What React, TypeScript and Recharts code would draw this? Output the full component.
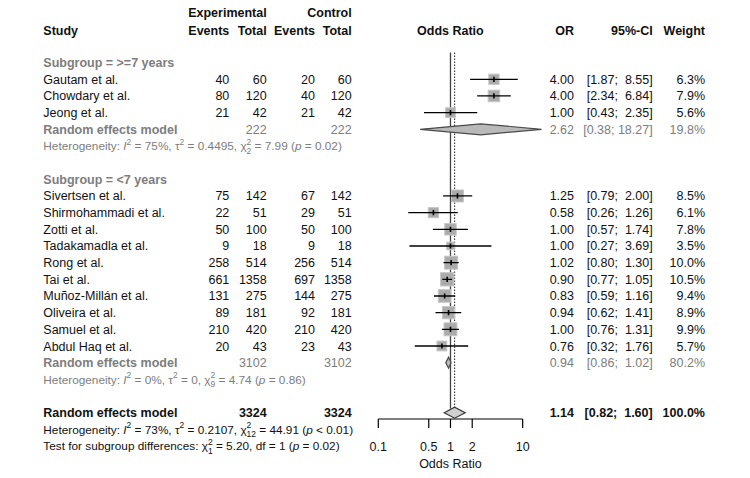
import React from "react";
import { ScatterChart, Scatter, XAxis, YAxis, ReferenceLine } from "recharts";

// ---- study rows ----
const studies = [
  "Gautam et al.",
  "Chowdary et al.",
  "Jeong et al.",
  "Sivertsen et al.",
  "Shirmohammadi et al.",
  "Zotti et al.",
  "Tadakamadla et al.",
  "Rong et al.",
  "Tai et al.",
  "Muñoz-Millán et al.",
  "Oliveira et al.",
  "Samuel et al.",
  "Abdul Haq et al.",
];
const studyGroup = [0, 0, 0, 1, 1, 1, 1, 1, 1, 1, 1, 1, 1];
const expEvents = [40, 80, 21, 75, 22, 50, 9, 258, 661, 131, 89, 210, 20];
const expTotal = [60, 120, 42, 142, 51, 100, 18, 514, 1358, 275, 181, 420, 43];
const ctrlEvents = [20, 40, 21, 67, 29, 50, 9, 256, 697, 144, 92, 210, 23];
const ctrlTotal = [60, 120, 42, 142, 51, 100, 18, 514, 1358, 275, 181, 420, 43];
const oddsRatio = [4.0, 4.0, 1.0, 1.25, 0.58, 1.0, 1.0, 1.02, 0.9, 0.83, 0.94, 1.0, 0.76];
const ciLower = [1.87, 2.34, 0.43, 0.79, 0.26, 0.57, 0.27, 0.8, 0.77, 0.59, 0.62, 0.76, 0.32];
const ciUpper = [8.55, 6.84, 2.35, 2.0, 1.26, 1.74, 3.69, 1.3, 1.05, 1.16, 1.41, 1.31, 1.76];
const weight = [6.3, 7.9, 5.6, 8.5, 6.1, 7.8, 3.5, 10.0, 10.5, 9.4, 8.9, 9.9, 5.7];

// ---- subgroup random effects ----
const groupLabels = ["Subgroup = >=7 years", "Subgroup = <7 years"];
const groupExpTotal = [222, 3102];
const groupCtrlTotal = [222, 3102];
const groupOR = [2.62, 0.94];
const groupLower = [0.38, 0.86];
const groupUpper = [18.27, 1.02];
const groupWeight = [19.8, 80.2];
const groupI2 = ["75%", "0%"];
const groupTau2 = ["0.4495", "0"];
const groupDf = ["2", "9"];
const groupQ = ["7.99", "4.74"];
const groupP = ["= 0.02", "= 0.86"];

// ---- overall random effects ----
const overallExpTotal = 3324;
const overallCtrlTotal = 3324;
const overallOR = 1.14;
const overallLower = 0.82;
const overallUpper = 1.6;
const overallWeight = 100.0;
const overallHet = { i2: "73%", tau2: "0.2107", df: "12", q: "44.91", p: "< 0.01" };
const subgroupTest = { df: "1", q: "5.20", p: "= 0.02" };

const axisTicks = [0.1, 0.5, 1, 2, 10];

// ---- layout ----
const W = 750;
const H = 478;
const TOP = 12.6;
const ROW_H = 16.67;
const AXIS_ROW = 24.38;
const PLOT_LEFT = 378.3;
const PLOT_RIGHT = 544.4;
const FONT = '"Liberation Sans", Arial, Helvetica, sans-serif';
const FS = 12.5;
const FS_HET = 11.8;
const GREY = "#7d7d7d";
const DIAMOND_H = 5.5;
const BOX_K = 4.1;

const COL = {
  study: 43.3,
  expEv: 229.3,
  expTot: 266.7,
  ctrlEv: 315,
  ctrlTot: 351.7,
  plotMid: 450.4,
  or: 574,
  ci: 652.7,
  wt: 705,
};

const rowY = (r: number) => TOP + r * ROW_H;

// assign rows: headers take 0-1, then each subgroup block
const studyRow: number[] = [];
const groupRow: number[] = [];
const pooledRow: number[] = [];
const hetRow: number[] = [];
let next = 3;
groupLabels.forEach((_, g) => {
  groupRow[g] = next++;
  studies.forEach((_, i) => {
    if (studyGroup[i] === g) studyRow[i] = next++;
  });
  pooledRow[g] = next++;
  hetRow[g] = next++;
  next++;
});
const overallRow = next;
const overallHetRow = next + 1;
const testRow = next + 2;

const studyPoints = studies.map((name, i) => ({
  name,
  x: oddsRatio[i],
  row: studyRow[i],
  w: weight[i],
}));

// CI ends, two points per study, joined pairwise by the line renderer
const ciPoints = studies.flatMap((_, i) => [
  { x: ciLower[i], row: studyRow[i] },
  { x: ciUpper[i], row: studyRow[i] },
]);

const groupDiamonds = groupLabels.map((_, g) =>
  [groupLower[g], groupOR[g], groupUpper[g]].map((x) => ({ x, row: pooledRow[g] }))
);
const overallDiamond = [overallLower, overallOR, overallUpper].map((x) => ({
  x,
  row: overallRow,
}));

const fmtCI = (lo: number, hi: number) =>
  `[${lo.toFixed(2)}; ${hi.toFixed(2).padStart(5)}]`;

const T = ({
  x,
  r,
  anchor = "start",
  bold = false,
  color = "#111",
  size = FS,
  children,
}: any) => (
  <text
    x={x}
    y={rowY(r) + size * 0.36}
    textAnchor={anchor}
    fontFamily={FONT}
    fontSize={size}
    fontWeight={bold ? "bold" : "normal"}
    fill={color}
    style={{ whiteSpace: "pre" }}
  >
    {children}
  </text>
);

// chi-square with stacked super/subscript
const chiParts = (df: string, s: number) => {
  const sm = s * 0.72;
  const up = s * 0.45;
  const down = s * 0.32;
  return [
    <tspan key="c2" fontSize={sm} dy={-up}>
      2
    </tspan>,
    <tspan key="cdf" fontSize={sm} dx={-sm * 0.556} dy={up + down}>
      {df}
    </tspan>,
  ];
};

const HetLine = ({ r, color, i2, tau2, df, q, p }: any) => {
  const s = FS_HET;
  const sm = s * 0.72;
  const up = s * 0.45;
  const down = s * 0.32;
  return (
    <text
      x={COL.study}
      y={rowY(r) + s * 0.36}
      fontFamily={FONT}
      fontSize={s}
      fill={color}
      style={{ whiteSpace: "pre" }}
    >
      <tspan>{"Heterogeneity: "}</tspan>
      <tspan fontStyle="italic">I</tspan>
      <tspan fontSize={sm} dy={-up}>
        2
      </tspan>
      <tspan dy={up}>{` = ${i2}, τ`}</tspan>
      <tspan fontSize={sm} dy={-up}>
        2
      </tspan>
      <tspan dy={up}>{` = ${tau2}, χ`}</tspan>
      {chiParts(df, s)}
      <tspan dy={-down}>{` = ${q} (`}</tspan>
      <tspan fontStyle="italic">p</tspan>
      <tspan>{` ${p})`}</tspan>
    </text>
  );
};

const TestLine = ({ r }: any) => {
  const s = FS_HET;
  const down = s * 0.32;
  return (
    <text
      x={COL.study}
      y={rowY(r) + s * 0.36}
      fontFamily={FONT}
      fontSize={s}
      fill="#111"
      style={{ whiteSpace: "pre" }}
    >
      <tspan>{"Test for subgroup differences: χ"}</tspan>
      {chiParts(subgroupTest.df, s)}
      <tspan dy={-down}>{` = ${subgroupTest.q}, df = ${subgroupTest.df} (`}</tspan>
      <tspan fontStyle="italic">p</tspan>
      <tspan>{` ${subgroupTest.p})`}</tspan>
    </text>
  );
};

const BoxShape = (props: any) => {
  const { cx, cy, payload } = props;
  const s = BOX_K * Math.sqrt(payload.w);
  return (
    <rect
      x={cx - s / 2}
      y={cy - s / 2}
      width={s}
      height={s}
      fill="#ababab"
      stroke="#c6c6c6"
      strokeWidth={1}
    />
  );
};

const TickShape = (props: any) => {
  const { cx, cy } = props;
  return (
    <line x1={cx} x2={cx} y1={cy - 2.6} y2={cy + 2.6} stroke="#000" strokeWidth={1.6} />
  );
};

const NoShape = () => <g />;

const ciSegments = (props: any) => {
  const pts = props.points;
  const segs = [];
  for (let k = 0; k + 1 < pts.length; k += 2) {
    segs.push(
      <line
        key={k}
        x1={pts[k].x}
        y1={pts[k].y}
        x2={pts[k + 1].x}
        y2={pts[k + 1].y}
        stroke="#000"
        strokeWidth={1.3}
      />
    );
  }
  return <g>{segs}</g>;
};

const diamond = (fill: string, stroke: string) => (props: any) => {
  const [a, b, c] = props.points;
  return (
    <polygon
      points={`${a.x},${a.y} ${b.x},${b.y - DIAMOND_H} ${c.x},${c.y} ${b.x},${b.y + DIAMOND_H}`}
      fill={fill}
      stroke={stroke}
      strokeWidth={1.2}
    />
  );
};

const App = () => {
  const axisBottom = rowY(AXIS_ROW);
  return (
    <div style={{ margin: -8, background: "#fff", width: W, height: H }}>
      <ScatterChart
        width={W}
        height={H}
        margin={{ top: TOP, right: W - PLOT_RIGHT, bottom: 0, left: PLOT_LEFT }}
      >
        <XAxis
          type="number"
          dataKey="x"
          scale="log"
          domain={[0.1, 20]}
          ticks={axisTicks}
          interval={0}
          axisLine={false}
          tickLine={{ stroke: "#000", strokeWidth: 1.2 }}
          tickSize={9}
          tickMargin={14}
          height={H - axisBottom}
          tick={{ fill: "#111", fontSize: FS, fontFamily: FONT }}
        />
        <YAxis
          type="number"
          dataKey="row"
          domain={[0, AXIS_ROW]}
          reversed
          hide
          allowDataOverflow
        />

        {/* no-effect line and pooled estimate line */}
        <ReferenceLine
          segment={[
            { x: 1, y: 2.4 },
            { x: 1, y: overallRow - 0.25 },
          ]}
          stroke="#444"
          strokeWidth={1.3}
        />
        <ReferenceLine
          segment={[
            { x: overallOR, y: 2.4 },
            { x: overallOR, y: overallRow - 0.25 },
          ]}
          stroke="#333"
          strokeWidth={1.1}
          strokeDasharray="1.5 1.5"
        />
        <ReferenceLine
          segment={[
            { x: axisTicks[0], y: AXIS_ROW },
            { x: axisTicks[axisTicks.length - 1], y: AXIS_ROW },
          ]}
          stroke="#000"
          strokeWidth={1.2}
          ifOverflow="visible"
        />

        <Scatter data={studyPoints} shape={BoxShape} isAnimationActive={false} />
        <Scatter
          data={ciPoints}
          shape={NoShape}
          line={ciSegments}
          isAnimationActive={false}
        />
        <Scatter data={studyPoints} shape={TickShape} isAnimationActive={false} />

        {groupDiamonds.map((pts, g) => (
          <Scatter
            key={g}
            data={pts}
            shape={NoShape}
            line={diamond("#b9b9b9", "#4a4a4a")}
            isAnimationActive={false}
          />
        ))}
        <Scatter
          data={overallDiamond}
          shape={NoShape}
          line={diamond("#cfcfcf", "#333")}
          isAnimationActive={false}
        />

        {/* table text */}
        <g>
          <T x={COL.expTot} r={0} anchor="end" bold>
            Experimental
          </T>
          <T x={COL.ctrlTot} r={0} anchor="end" bold>
            Control
          </T>
          <T x={COL.study} r={1.07} bold>
            Study
          </T>
          <T x={COL.expEv} r={1.07} anchor="end" bold>
            Events
          </T>
          <T x={COL.expTot} r={1.07} anchor="end" bold>
            Total
          </T>
          <T x={COL.ctrlEv} r={1.07} anchor="end" bold>
            Events
          </T>
          <T x={COL.ctrlTot} r={1.07} anchor="end" bold>
            Total
          </T>
          <T x={COL.plotMid} r={1.07} anchor="middle" bold>
            Odds Ratio
          </T>
          <T x={COL.or} r={1.07} anchor="end" bold>
            OR
          </T>
          <T x={COL.ci} r={1.07} anchor="end" bold>
            95%-CI
          </T>
          <T x={COL.wt} r={1.07} anchor="end" bold>
            Weight
          </T>

          {studies.map((name, i) => (
            <g key={name}>
              <T x={COL.study} r={studyRow[i]}>
                {name}
              </T>
              <T x={COL.expEv} r={studyRow[i]} anchor="end">
                {expEvents[i]}
              </T>
              <T x={COL.expTot} r={studyRow[i]} anchor="end">
                {expTotal[i]}
              </T>
              <T x={COL.ctrlEv} r={studyRow[i]} anchor="end">
                {ctrlEvents[i]}
              </T>
              <T x={COL.ctrlTot} r={studyRow[i]} anchor="end">
                {ctrlTotal[i]}
              </T>
              <T x={COL.or} r={studyRow[i]} anchor="end">
                {oddsRatio[i].toFixed(2)}
              </T>
              <T x={COL.ci} r={studyRow[i]} anchor="end">
                {fmtCI(ciLower[i], ciUpper[i])}
              </T>
              <T x={COL.wt} r={studyRow[i]} anchor="end">
                {`${weight[i].toFixed(1)}%`}
              </T>
            </g>
          ))}

          {groupLabels.map((label, g) => (
            <g key={label}>
              <T x={COL.study} r={groupRow[g]} bold color={GREY}>
                {label}
              </T>
              <T x={COL.study} r={pooledRow[g]} bold color={GREY}>
                Random effects model
              </T>
              <T x={COL.expTot} r={pooledRow[g]} anchor="end" color={GREY}>
                {groupExpTotal[g]}
              </T>
              <T x={COL.ctrlTot} r={pooledRow[g]} anchor="end" color={GREY}>
                {groupCtrlTotal[g]}
              </T>
              <T x={COL.or} r={pooledRow[g]} anchor="end" color={GREY}>
                {groupOR[g].toFixed(2)}
              </T>
              <T x={COL.ci} r={pooledRow[g]} anchor="end" color={GREY}>
                {fmtCI(groupLower[g], groupUpper[g])}
              </T>
              <T x={COL.wt} r={pooledRow[g]} anchor="end" color={GREY}>
                {`${groupWeight[g].toFixed(1)}%`}
              </T>
              <HetLine
                r={hetRow[g]}
                color={GREY}
                i2={groupI2[g]}
                tau2={groupTau2[g]}
                df={groupDf[g]}
                q={groupQ[g]}
                p={groupP[g]}
              />
            </g>
          ))}

          <T x={COL.study} r={overallRow} bold>
            Random effects model
          </T>
          <T x={COL.expTot} r={overallRow} anchor="end" bold>
            {overallExpTotal}
          </T>
          <T x={COL.ctrlTot} r={overallRow} anchor="end" bold>
            {overallCtrlTotal}
          </T>
          <T x={COL.or} r={overallRow} anchor="end" bold>
            {overallOR.toFixed(2)}
          </T>
          <T x={COL.ci} r={overallRow} anchor="end" bold>
            {fmtCI(overallLower, overallUpper)}
          </T>
          <T x={COL.wt} r={overallRow} anchor="end" bold>
            {`${overallWeight.toFixed(1)}%`}
          </T>
          <HetLine r={overallHetRow} color="#111" {...overallHet} />
          <TestLine r={testRow} />

          <text
            x={COL.plotMid}
            y={axisBottom + 48.5}
            textAnchor="middle"
            fontFamily={FONT}
            fontSize={FS}
            fill="#111"
          >
            Odds Ratio
          </text>
        </g>
      </ScatterChart>
    </div>
  );
};

export default App;
